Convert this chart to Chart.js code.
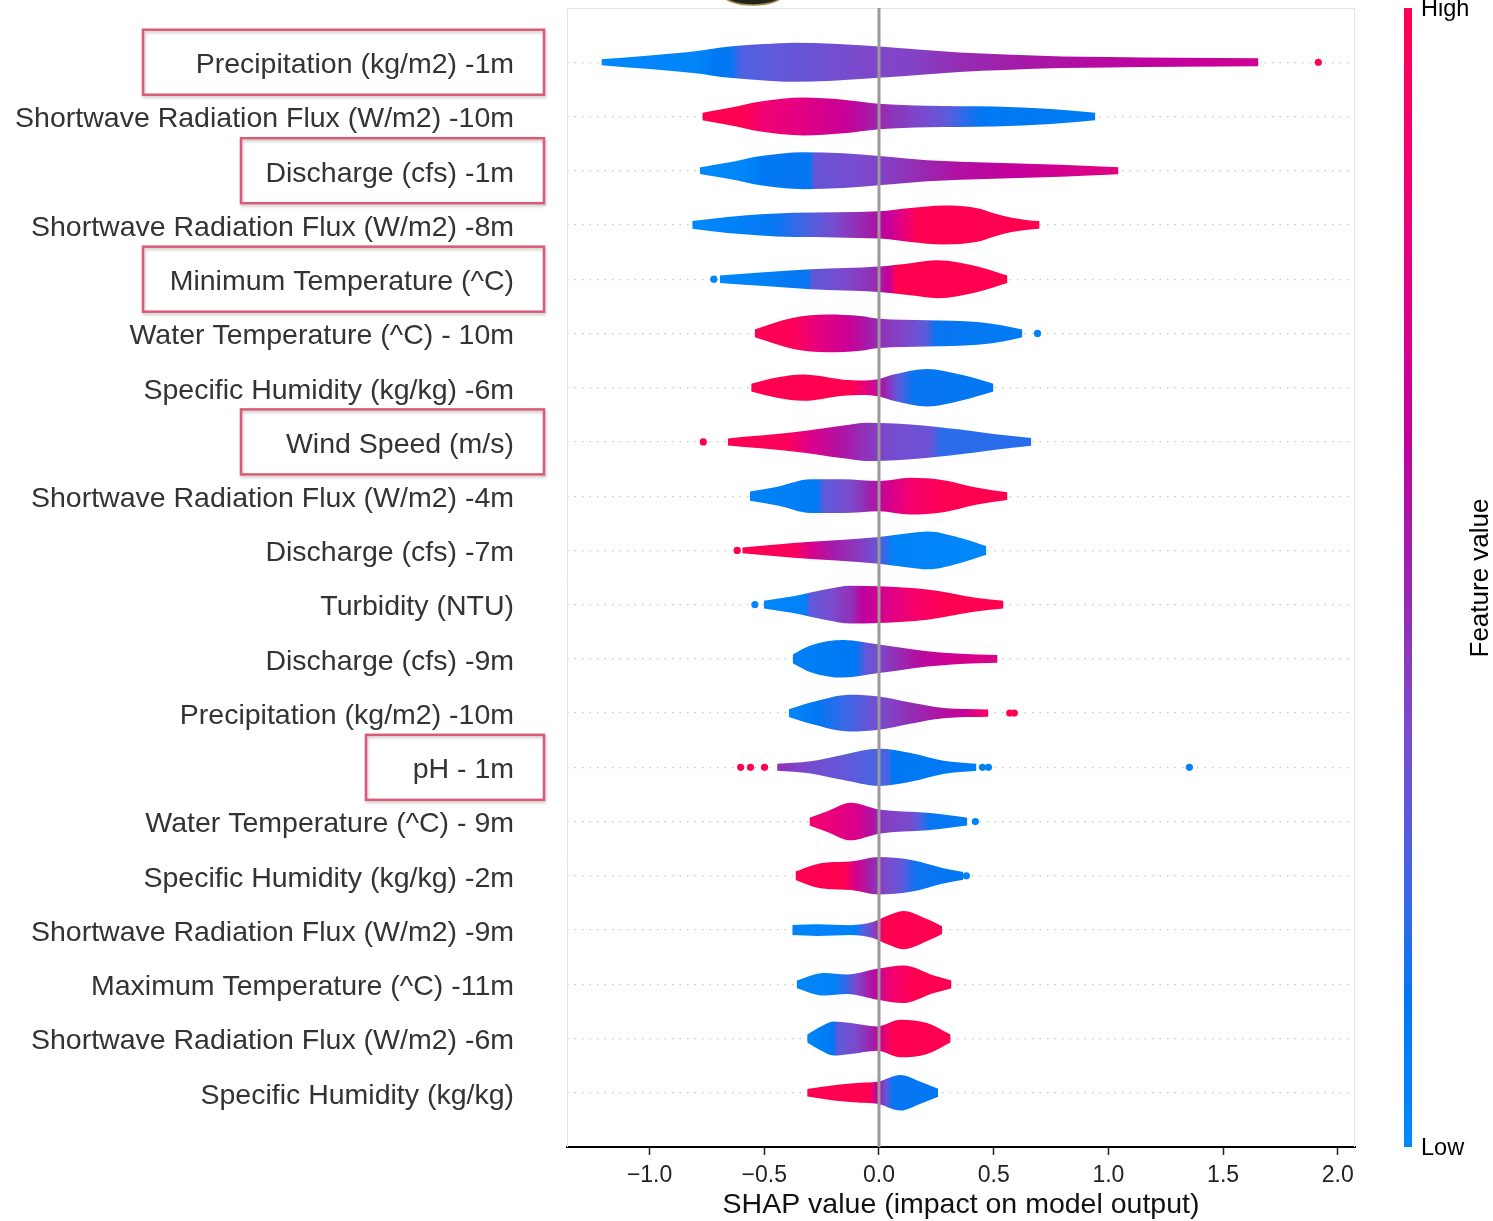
<!DOCTYPE html>
<html><head><meta charset="utf-8">
<script src="https://cdn.jsdelivr.net/npm/chart.js@4.4.1/dist/chart.umd.min.js"></script>
<style>html,body{margin:0;padding:0;background:#fff;}canvas{display:block}</style>
</head><body>
<canvas id="c" width="1493" height="1221"></canvas>
<script>
// ---------------- DATA ----------------
const features = [
  'Precipitation (kg/m2) -1m',
  'Shortwave Radiation Flux (W/m2) -10m',
  'Discharge (cfs) -1m',
  'Shortwave Radiation Flux (W/m2) -8m',
  'Minimum Temperature (^C)',
  'Water Temperature (^C) - 10m',
  'Specific Humidity (kg/kg) -6m',
  'Wind Speed (m/s)',
  'Shortwave Radiation Flux (W/m2) -4m',
  'Discharge (cfs) -7m',
  'Turbidity (NTU)',
  'Discharge (cfs) -9m',
  'Precipitation (kg/m2) -10m',
  'pH - 1m',
  'Water Temperature (^C) - 9m',
  'Specific Humidity (kg/kg) -2m',
  'Shortwave Radiation Flux (W/m2) -9m',
  'Maximum Temperature (^C) -11m',
  'Shortwave Radiation Flux (W/m2) -6m',
  'Specific Humidity (kg/kg)'
];

// SHAP values along each violin and relative density (0..1)
const violinX = [
  [-1.21,-1.0,-0.8,-0.65,-0.5,-0.37,-0.2,0,0.2,0.35,0.55,0.8,1.0,1.3,1.654],
  [-0.77,-0.65,-0.516,-0.33,-0.155,0,0.21,0.5,0.75,0.943],
  [-0.781,-0.65,-0.516,-0.329,-0.155,0,0.211,0.499,0.791,1.044],
  [-0.814,-0.66,-0.373,0,0.137,0.281,0.429,0.5,0.573,0.64,0.7],
  [-0.694,-0.516,-0.298,0,0.137,0.255,0.429,0.56],
  [-0.542,-0.373,-0.225,-0.081,0,0.211,0.429,0.54,0.625],
  [-0.557,-0.44,-0.329,-0.155,-0.081,0,0.063,0.211,0.355,0.499],
  [-0.659,-0.373,-0.155,-0.05,0.137,0.355,0.499,0.664],
  [-0.563,-0.442,-0.298,-0.155,0,0.137,0.281,0.429,0.56],
  [-0.596,-0.373,0,0.137,0.211,0.355,0.468],
  [-0.502,-0.373,-0.225,-0.124,0,0.211,0.429,0.543],
  [-0.376,-0.298,-0.155,0,0.211,0.429,0.517],
  [-0.393,-0.298,-0.124,0,0.137,0.281,0.477],
  [-0.444,-0.373,-0.298,-0.155,0,0.137,0.281,0.425],
  [-0.303,-0.225,-0.124,0,0.211,0.385],
  [-0.364,-0.285,-0.225,-0.124,0,0.137,0.281,0.368],
  [-0.378,-0.269,-0.124,-0.024,0.036,0.107,0.21,0.275],
  [-0.359,-0.24,-0.139,-0.008,0.108,0.239,0.316],
  [-0.313,-0.255,-0.197,-0.124,-0.008,0.094,0.21,0.312],
  [-0.313,-0.197,-0.081,-0.008,0.094,0.181,0.258]
];
const violinWidth = [
  [0.15,0.35,0.56,0.8,0.93,1.0,0.95,0.8,0.63,0.5,0.4,0.3,0.27,0.23,0.2],
  [0.19,0.45,0.77,0.97,0.86,0.65,0.55,0.51,0.38,0.19],
  [0.17,0.43,0.75,0.95,0.89,0.75,0.54,0.41,0.31,0.18],
  [0.2,0.41,0.62,0.7,0.87,1.0,0.86,0.6,0.38,0.26,0.2],
  [0.19,0.34,0.51,0.65,0.82,0.97,0.65,0.19],
  [0.2,0.8,0.97,0.89,0.75,0.67,0.58,0.41,0.2],
  [0.2,0.53,0.67,0.41,0.37,0.45,0.67,0.96,0.67,0.2],
  [0.18,0.49,0.84,0.98,0.89,0.63,0.41,0.2],
  [0.24,0.48,0.86,0.86,0.77,0.94,0.82,0.43,0.2],
  [0.15,0.38,0.69,0.89,0.97,0.64,0.23],
  [0.2,0.43,0.8,0.97,0.94,0.77,0.34,0.2],
  [0.22,0.68,0.96,0.73,0.39,0.22,0.2],
  [0.2,0.54,0.94,0.85,0.54,0.26,0.19],
  [0.18,0.23,0.31,0.65,0.95,0.74,0.34,0.18],
  [0.2,0.53,0.96,0.62,0.45,0.2],
  [0.22,0.56,0.68,0.73,0.96,0.82,0.39,0.2],
  [0.26,0.3,0.25,0.42,0.73,0.98,0.56,0.2],
  [0.2,0.58,0.5,0.79,0.96,0.45,0.2],
  [0.2,0.6,0.87,0.79,0.62,0.96,0.79,0.2],
  [0.19,0.39,0.51,0.56,0.91,0.56,0.2]
];

// feature value (0 = low, 1 = high) along each violin
const colorX = [
  [-1.21,-0.8,-0.7,-0.64,-0.6,-0.45,-0.25,-0.05,0.15,0.35,0.6,0.9,1.2,1.654],
  [-0.77,-0.6,-0.5,-0.35,-0.15,-0.05,0.05,0.2,0.3,0.38,0.45,0.94],
  [-0.78,-0.6,-0.5,-0.3,-0.28,-0.1,0.05,0.2,0.35,0.6,0.8,1.04],
  [-0.81,-0.6,-0.45,-0.35,-0.2,-0.05,0.03,0.1,0.17,0.7],
  [-0.69,-0.52,-0.31,-0.29,-0.15,-0.02,0.04,0.08,0.56],
  [-0.54,-0.37,-0.25,-0.13,-0.05,0.03,0.12,0.2,0.25,0.625],
  [-0.557,-0.12,-0.05,0.02,0.08,0.15,0.5],
  [-0.66,-0.4,-0.3,-0.15,-0.05,0.05,0.22,0.27,0.66],
  [-0.563,-0.27,-0.24,-0.12,-0.04,0.03,0.14,0.3,0.56],
  [-0.596,-0.37,-0.3,-0.2,-0.1,-0.02,0.03,0.06,0.47],
  [-0.502,-0.32,-0.3,-0.2,-0.12,-0.07,0.06,0.14,0.3,0.543],
  [-0.376,-0.1,-0.06,0,0.07,0.17,0.3,0.517],
  [-0.393,-0.27,-0.15,0,0.14,0.28,0.38,0.45,0.477],
  [-0.444,-0.3,-0.15,-0.05,0.04,0.06,0.425],
  [-0.303,-0.2,-0.1,-0.03,0.02,0.14,0.18,0.22,0.385],
  [-0.364,-0.15,-0.1,-0.03,0.03,0.1,0.16,0.368],
  [-0.378,-0.1,-0.07,-0.02,0,0.03,0.275],
  [-0.359,-0.2,-0.15,-0.1,-0.02,0.05,0.15,0.316],
  [-0.313,-0.2,-0.18,-0.1,-0.03,0,0.06,0.312],
  [-0.313,-0.04,-0.01,0.03,0.06,0.258]
];
const colorValue = [
  [0.02,0.04,0.125,0.14,0.26,0.3,0.34,0.38,0.4,0.47,0.53,0.58,0.62,0.68],
  [1.0,1.0,0.85,0.77,0.66,0.55,0.45,0.36,0.29,0.19,0.125,0.09],
  [0.02,0.03,0.125,0.14,0.32,0.36,0.415,0.49,0.57,0.63,0.7,0.77],
  [0.02,0.07,0.14,0.22,0.36,0.51,0.62,0.77,1.0,1.0],
  [0.02,0.06,0.14,0.3,0.375,0.47,0.63,1.0,1.0],
  [1.0,0.96,0.77,0.66,0.53,0.44,0.375,0.3,0.14,0.1],
  [1.0,1.0,0.77,0.53,0.3,0.14,0.125],
  [1.0,0.96,0.73,0.55,0.44,0.36,0.33,0.2,0.19],
  [0.06,0.1,0.29,0.375,0.51,0.68,0.87,1.0,1.0],
  [1.0,0.96,0.73,0.53,0.44,0.34,0.2,0.06,0.02],
  [0.03,0.06,0.3,0.375,0.46,0.62,0.75,0.88,1.0,1.0],
  [0.07,0.125,0.3,0.375,0.46,0.58,0.68,0.74],
  [0.03,0.125,0.22,0.36,0.47,0.57,0.66,0.85,0.88],
  [0.45,0.36,0.31,0.26,0.24,0.125,0.1],
  [0.88,0.8,0.73,0.57,0.415,0.36,0.26,0.14,0.1],
  [1.0,1.0,0.7,0.49,0.375,0.3,0.15,0.125],
  [0.03,0.07,0.26,0.4,0.8,1.0,1.0],
  [0.03,0.06,0.2,0.375,0.6,0.85,1.0,1.0],
  [0.03,0.125,0.3,0.375,0.51,0.68,1.0,1.0],
  [1.0,1.0,0.6,0.32,0.14,0.125]
];

// isolated points (outliers): row index, SHAP value, feature value
const outlierRow   = [0, 4, 5, 7, 9, 10, 12, 12, 13, 13, 13, 13, 13, 13, 14, 15];
const outlierX     = [1.915, -0.72, 0.691, -0.766, -0.618, -0.541, 0.57, 0.59, -0.603, -0.56, -0.499, 0.451, 0.477, 1.353, 0.42, 0.381];
const outlierValue = [1.0, 0.03, 0.06, 1.0, 1.0, 0.03, 1.0, 1.0, 1.0, 1.0, 1.0, 0.06, 0.06, 0.03, 0.06, 0.06];

const xTicks = [-1.0, -0.5, 0.0, 0.5, 1.0, 1.5, 2.0];
const xTickLabels = ['\u22121.0', '\u22120.5', '0.0', '0.5', '1.0', '1.5', '2.0'];

const highlightRows = [0, 2, 4, 7, 13];
const highlightLeft = [143, 241, 143, 241, 366];

// ---------------- COLOR MAP (SHAP red_blue) ----------------
const cmapStops = [
  [0.0,   [0,139,251]],
  [0.125, [0,120,243]],
  [0.25,  [75,99,227]],
  [0.375, [125,73,204]],
  [0.5,   [155,36,173]],
  [0.625, [194,0,156]],
  [0.75,  [224,0,134]],
  [0.875, [245,0,109]],
  [1.0,   [255,0,81]]
];
function cmap(v) {
  v = Math.max(0, Math.min(1, v));
  for (let k = 1; k < cmapStops.length; k++) {
    const [t1, c1] = cmapStops[k];
    const [t0, c0] = cmapStops[k-1];
    if (v <= t1) {
      const f = (v - t0) / (t1 - t0);
      const c = c0.map((a, j) => Math.round(a + (c1[j] - a) * f));
      return `rgb(${c[0]},${c[1]},${c[2]})`;
    }
  }
  return 'rgb(255,0,81)';
}

const FONT = "'Liberation Sans', Arial, Helvetica, sans-serif";
const HALF = 0.36; // max half-height of a violin in row units

function violinFill(chart, i) {
  const xs = chart.scales && chart.scales.x;
  if (!xs || !chart.chartArea) return 'rgba(0,0,0,0)';
  const vx = violinX[i];
  const p0 = xs.getPixelForValue(vx[0]);
  const p1 = xs.getPixelForValue(vx[vx.length - 1]);
  const g = chart.ctx.createLinearGradient(p0, 0, p1, 0);
  colorX[i].forEach((cx, k) => {
    let t = (xs.getPixelForValue(cx) - p0) / (p1 - p0);
    t = Math.max(0, Math.min(1, t));
    g.addColorStop(t, cmap(colorValue[i][k]));
  });
  return g;
}

// ---------------- DATASETS ----------------
const datasets = [];
datasets.push({
  label: 'zero', data: [{x: 0, y: -1}, {x: 0, y: 20}],
  borderColor: '#9a9a9a', borderWidth: 3, pointRadius: 0, fill: false, order: 0
});
datasets.push({
  label: 'outliers',
  data: outlierX.map((x, k) => ({x, y: outlierRow[k]})),
  showLine: false, pointRadius: 3.6, pointBorderWidth: 0,
  pointBackgroundColor: outlierValue.map(cmap), order: 1
});
features.forEach((name, i) => {
  const vx = violinX[i], vw = violinWidth[i];
  datasets.push({
    label: name + ' top',
    data: vx.map((x, k) => ({x, y: i - vw[k] * HALF})),
    fill: '+1',
    backgroundColor: (ctx) => violinFill(ctx.chart, i),
    borderWidth: 0, borderColor: 'rgba(0,0,0,0)', pointRadius: 0,
    cubicInterpolationMode: 'monotone', order: 2
  });
  datasets.push({
    label: name + ' bottom',
    data: vx.map((x, k) => ({x, y: i + vw[k] * HALF})),
    fill: false, borderWidth: 0, borderColor: 'rgba(0,0,0,0)', pointRadius: 0,
    cubicInterpolationMode: 'monotone', order: 2
  });
});

// ---------------- EXTRAS PLUGIN ----------------
const extras = {
  id: 'extras',
  beforeDatasetsDraw(chart) {
    const {ctx, chartArea: ca} = chart;
    ctx.save();
    ctx.strokeStyle = '#e4e4e4';
    ctx.lineWidth = 1;
    ctx.beginPath();
    ctx.moveTo(ca.left + 0.5, ca.bottom);
    ctx.lineTo(ca.left + 0.5, ca.top + 0.5);
    ctx.lineTo(ca.right - 0.5, ca.top + 0.5);
    ctx.lineTo(ca.right - 0.5, ca.bottom);
    ctx.stroke();
    ctx.restore();
  },
  afterDraw(chart) {
    const {ctx, chartArea: ca} = chart;
    const ys = chart.scales.y;
    ctx.save();
    // colour bar
    const g = ctx.createLinearGradient(0, ca.bottom, 0, ca.top);
    cmapStops.forEach(([t, c]) => g.addColorStop(t, `rgb(${c[0]},${c[1]},${c[2]})`));
    ctx.fillStyle = g;
    ctx.fillRect(1404, ca.top, 8, ca.bottom - ca.top);
    ctx.fillStyle = '#000';
    ctx.font = `23.5px ${FONT}`;
    ctx.textAlign = 'left';
    ctx.textBaseline = 'middle';
    ctx.fillText('High', 1421, 10);
    ctx.fillText('Low', 1421, 1149);
    ctx.save();
    ctx.translate(1481, 578);
    ctx.rotate(-Math.PI / 2);
    ctx.textAlign = 'center';
    ctx.font = `26px ${FONT}`;
    ctx.fillText('Feature value', 0, 0);
    ctx.restore();
    // highlight boxes
    ctx.strokeStyle = '#d95b78';
    ctx.lineWidth = 2.5;
    ctx.shadowColor = 'rgba(0,0,0,0.22)';
    ctx.shadowBlur = 3;
    ctx.shadowOffsetX = 1;
    ctx.shadowOffsetY = 2;
    highlightRows.forEach((r, k) => {
      const yc = ys.getPixelForValue(r);
      ctx.strokeRect(highlightLeft[k], yc - 32.5, 544 - highlightLeft[k], 65);
    });
    ctx.restore();
    // small dark object cut by the top edge
    ctx.save();
    ctx.beginPath();
    ctx.ellipse(753, -7, 31, 12, 0, 0, Math.PI * 2);
    ctx.fillStyle = '#23231a';
    ctx.fill();
    ctx.strokeStyle = '#9c8a4a';
    ctx.lineWidth = 1.5;
    ctx.stroke();
    ctx.restore();
  }
};

Chart.defaults.font.family = FONT;

new Chart(document.getElementById('c'), {
  type: 'line',
  data: {datasets},
  options: {
    responsive: false,
    animation: false,
    events: [],
    layout: {padding: {left: 0, right: 138, top: 8, bottom: 0}},
    plugins: {legend: {display: false}, tooltip: {enabled: false}},
    scales: {
      x: {
        type: 'linear', min: -1.36, max: 2.075, bounds: 'data',
        afterBuildTicks: (s) => { s.ticks = xTicks.map(v => ({value: v})); },
        afterFit: (s) => { s.height = 74; s.paddingLeft = 0; s.paddingRight = 0; },
        ticks: {
          callback: (v, idx) => xTickLabels[idx],
          font: {size: 23}, color: '#222', padding: 7, maxRotation: 0, autoSkip: false
        },
        grid: {drawOnChartArea: false, drawTicks: true, tickLength: 8, tickColor: '#222', tickWidth: 1.5},
        border: {display: true, color: '#000', width: 2},
        title: {
          display: true, text: 'SHAP value (impact on model output)',
          font: {size: 28.5, lineHeight: 1.1}, color: '#111', padding: {top: 0, bottom: 0}
        }
      },
      y: {
        type: 'linear', min: -1, max: 20, reverse: true, bounds: 'data',
        afterBuildTicks: (s) => { s.ticks = features.map((_, i) => ({value: i})); },
        afterFit: (s) => { s.width = 567; s.paddingTop = 0; s.paddingBottom = 0; },
        ticks: {
          callback: (v) => features[v] !== undefined ? features[v] : '',
          font: {size: 28.5}, color: '#333', padding: 53, autoSkip: false, labelOffset: 3
        },
        grid: {color: '#c8c8c8', lineWidth: 1.2, drawTicks: false},
        border: {display: false, dash: [1.5, 6]}
      }
    }
  },
  plugins: [extras]
});
</script>
</body></html>
